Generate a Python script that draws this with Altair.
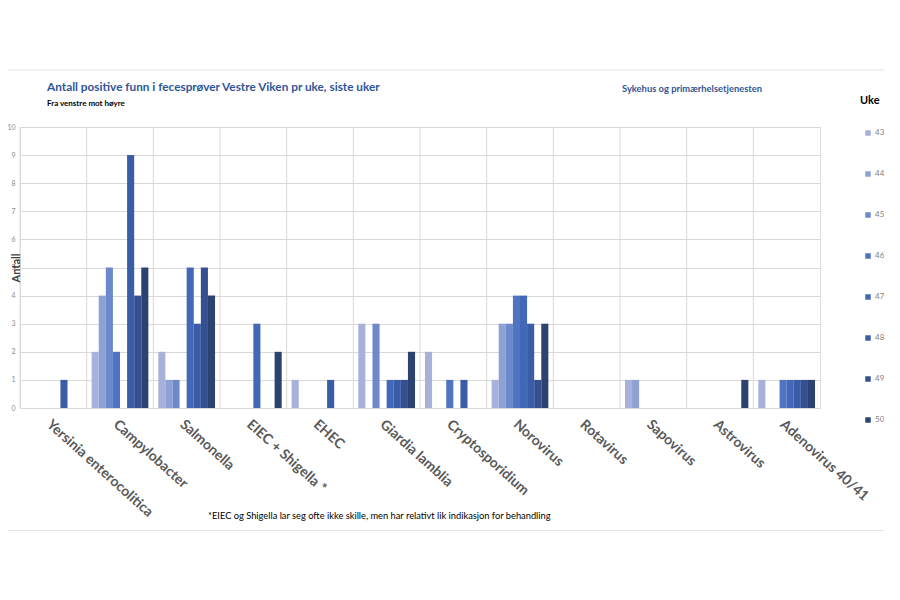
import altair as alt
import pandas as pd

categories = ["Yersinia enterocolitica", "Campylobacter", "Salmonella", "EIEC + Shigella *",
              "EHEC", "Giardia lamblia", "Cryptosporidium", "Norovirus", "Rotavirus",
              "Sapovirus", "Astrovirus", "Adenovirus 40/41"]
weeks = ["43", "44", "45", "46", "47", "48", "49", "50"]
week_colors = ["#a7b1db", "#8ea1d3", "#6b89cb", "#4f74c1", "#4468b8", "#3b5ca6", "#345090", "#2c4372"]

# counts per category, weeks 43..50
yersinia = [0, 0, 0, 0, 0, 1, 0, 0]
campylobacter = [2, 4, 5, 2, 0, 9, 4, 5]
salmonella = [2, 1, 1, 0, 5, 3, 5, 4]
eiec_shigella = [0, 0, 0, 0, 3, 0, 0, 2]
ehec = [1, 0, 0, 0, 0, 1, 0, 0]
giardia = [3, 0, 3, 0, 1, 1, 1, 2]
cryptosporidium = [2, 0, 0, 1, 0, 1, 0, 0]
norovirus = [1, 3, 3, 4, 4, 3, 1, 3]
rotavirus = [0, 0, 0, 0, 0, 0, 0, 0]
sapovirus = [1, 1, 0, 0, 0, 0, 0, 0]
astrovirus = [0, 0, 0, 0, 0, 0, 0, 1]
adenovirus = [1, 0, 0, 1, 1, 1, 1, 1]

series = [yersinia, campylobacter, salmonella, eiec_shigella, ehec, giardia,
          cryptosporidium, norovirus, rotavirus, sapovirus, astrovirus, adenovirus]

title_text = "Antall positive funn i fecesprøver Vestre Viken pr uke, siste uker"
subtitle_text = "Fra venstre mot høyre"
source_text = "Sykehus og primærhelsetjenesten"
legend_title = "Uke"
y_title = "Antall"
footnote = "*EIEC og Shigella lar seg ofte ikke skille, men har relativt lik indikasjon for behandling"

rows = []
for cat, vals in zip(categories, series):
    for w, v in zip(weeks, vals):
        if v > 0:
            rows.append({"kategori": cat, "uke": w, "antall": v})
df = pd.DataFrame(rows)

W, H = 800, 281
FONT = "Lato"

x_enc = alt.X("kategori:N", sort=categories,
              scale=alt.Scale(domain=categories, paddingInner=0, paddingOuter=0),
              axis=alt.Axis(title=None, labelAngle=42, labelAlign="left", labelBaseline="top",
                            labelFontSize=14, labelFont=FONT, labelFontWeight="bold",
                            labelColor="#595959", labelPadding=9, ticks=False, domain=False,
                            grid=False, labelLimit=400))

grid_rules = alt.Chart(pd.DataFrame({"kategori": categories})).mark_rule(
    color="#d9d9d9", strokeWidth=1
).encode(x=alt.X("kategori:N", sort=categories, bandPosition=0))

bars = alt.Chart(df).mark_bar(strokeWidth=0).encode(
    x=x_enc,
    xOffset=alt.XOffset("uke:N", scale=alt.Scale(domain=weeks, paddingInner=0, paddingOuter=0.7)),
    y=alt.Y("antall:Q", scale=alt.Scale(domain=[0, 10], nice=False),
            axis=alt.Axis(title=None, values=list(range(11)), labelFontSize=7,
                          labelColor="#8c8c8c", ticks=False, domain=False,
                          gridColor="#d9d9d9", labelPadding=5, labelFont=FONT)),
    color=alt.Color("uke:N", scale=alt.Scale(domain=weeks, range=week_colors),
                    legend=alt.Legend(title=None, orient="none", legendX=844, legendY=2,
                                      symbolType="square", symbolSize=30, symbolStrokeWidth=0,
                                      labelFontSize=8, labelColor="#7f7f7f", labelFont=FONT,
                                      rowPadding=33.0, labelOffset=3, direction="vertical")),
)


def txt(s, x, y, size, color="#000000", weight="normal", align="left", angle=0):
    return alt.Chart(pd.DataFrame({"t": [s]})).mark_text(
        align=align, baseline="middle", fontSize=size, font=FONT, fontWeight=weight,
        color=color, angle=angle
    ).encode(text="t:N", x=alt.value(x), y=alt.value(y))


texts = [
    txt(title_text, 27, -40, 11.8, "#2f5597", "bold"),
    txt(subtitle_text, 27, -23, 8, "#000000", "bold"),
    txt(source_text, 602, -38, 9.4, "#2f5597", "bold"),
    txt(legend_title, 840, -26, 11, "#000000", "bold"),
    txt(y_title, -3, 141, 11, "#404040", "bold", align="center", angle=270),
    txt(footnote, 188, 389, 9.3, "#000000"),
]

frame = alt.Chart(pd.DataFrame({"y": [-57, 403.5]})).mark_rule(color="#e3e3e3").encode(
    y=alt.Y("y:Q", scale=None), x=alt.value(-12), x2=alt.value(W + 64)
)

chart = alt.layer(grid_rules, bars, frame, *texts).properties(
    width=W, height=H,
    autosize=alt.AutoSizeParams(type="none"),
    padding={"left": 12, "top": 119, "right": 64, "bottom": 126},
).configure_view(stroke="#d9d9d9").configure(background="white")

chart.save("out.html", embed_options={"renderer": "svg", "actions": False})
